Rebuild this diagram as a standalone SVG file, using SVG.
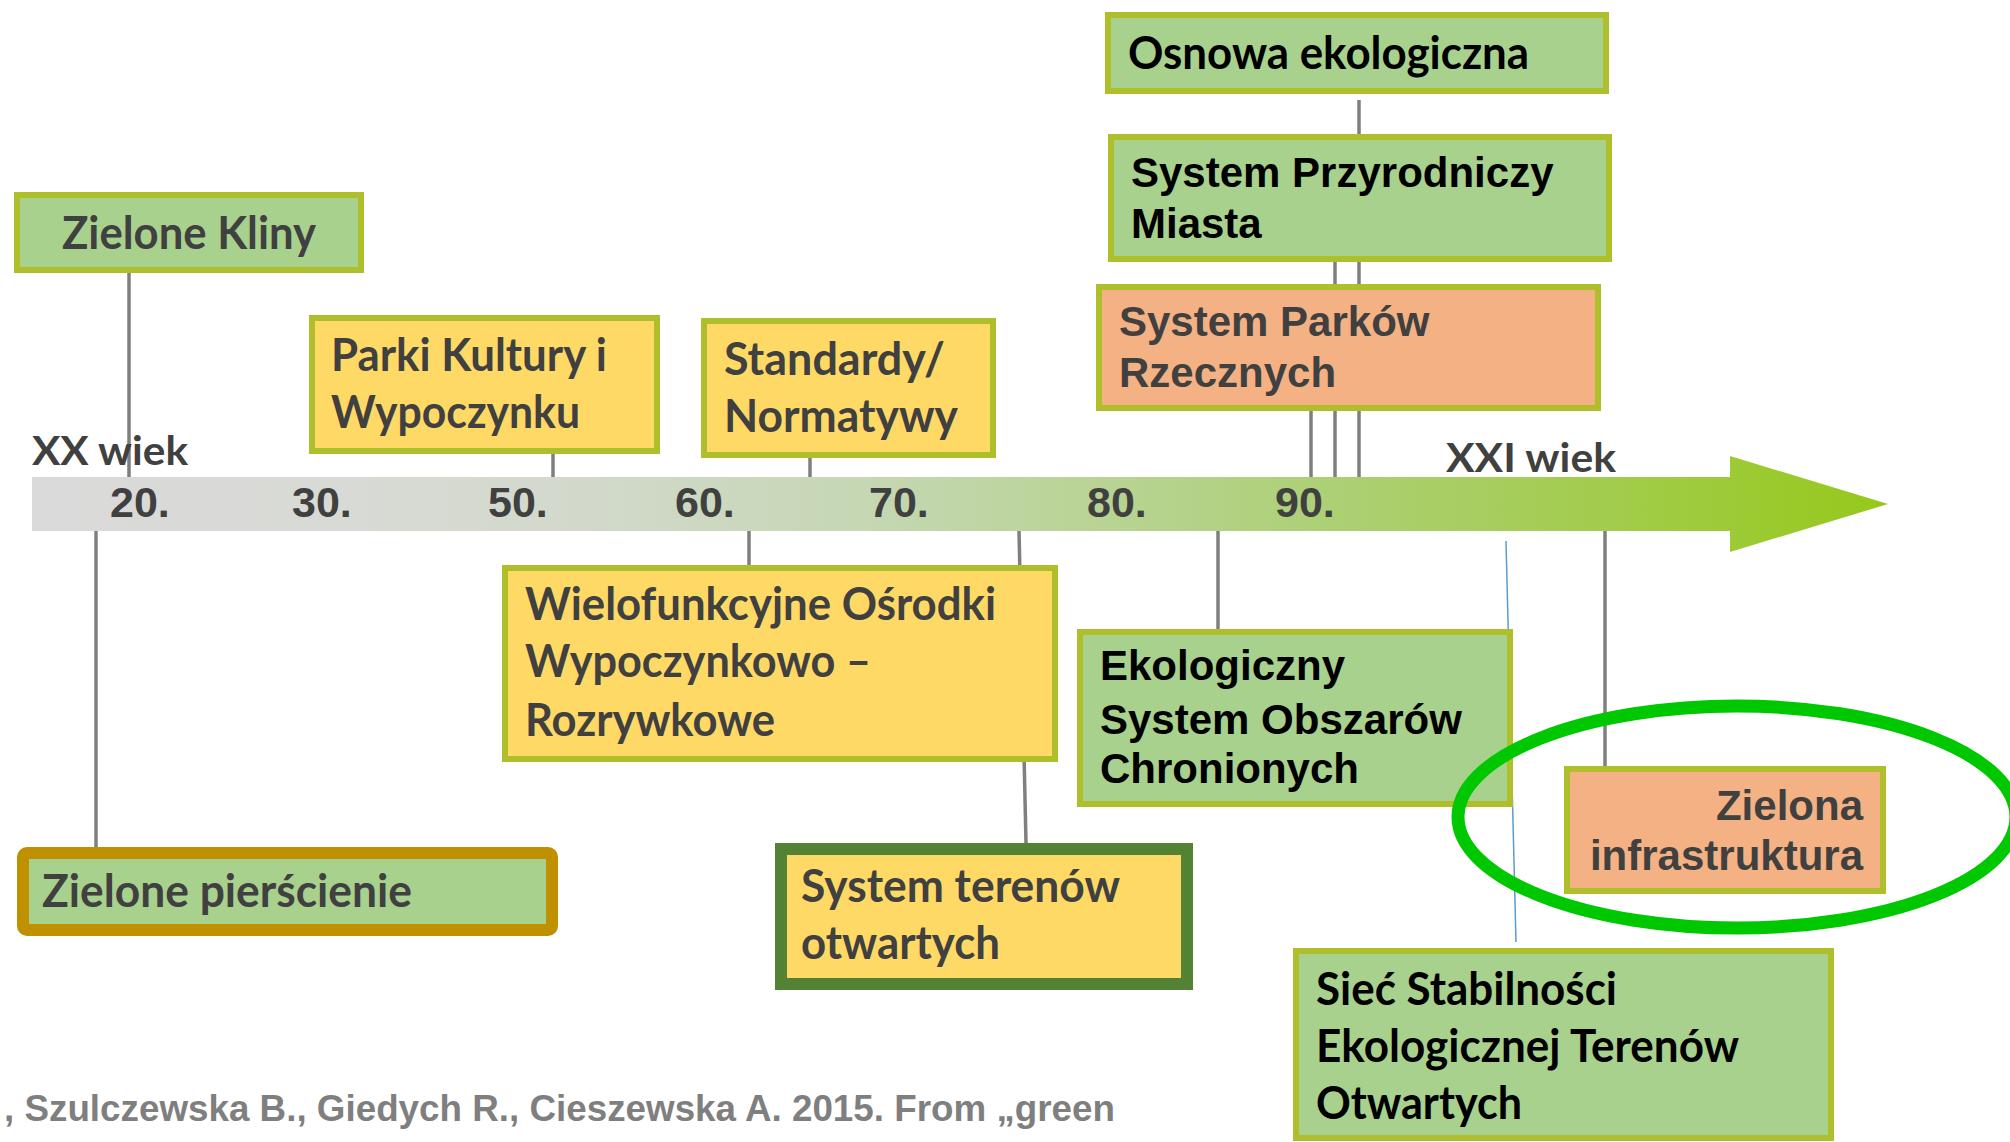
<svg xmlns="http://www.w3.org/2000/svg" width="2010" height="1142" viewBox="0 0 2010 1142">
<defs>
<linearGradient id="bar" gradientUnits="userSpaceOnUse" x1="32" y1="0" x2="1888" y2="0">
<stop offset="0" stop-color="#DADADA"/>
<stop offset="0.17" stop-color="#D8DAD5"/>
<stop offset="0.3" stop-color="#D2D9CB"/>
<stop offset="0.45" stop-color="#C5D7B3"/>
<stop offset="0.6" stop-color="#B6D38E"/>
<stop offset="0.72" stop-color="#ABCF70"/>
<stop offset="0.85" stop-color="#A2CC4C"/>
<stop offset="1" stop-color="#96C81A"/>
</linearGradient>
<style>
.c{font-family:Lato,"Open Sans",sans-serif;font-weight:700;font-size:45px;fill:#404040}
.a{font-family:"Liberation Sans",Arial,sans-serif;font-weight:700;font-size:42px;fill:#404040}
.k{fill:#000}
.d{font-family:"Liberation Sans",Arial,sans-serif;font-weight:700;font-size:43px;fill:#404040}
.h{font-family:Lato,"Open Sans",sans-serif;font-weight:700;font-size:40px;fill:#404040}
.cit{font-family:"Liberation Sans",Arial,sans-serif;font-weight:700;font-size:37px;fill:#7F7F7F}
.gr{fill:#A9D18E;stroke:#AEBF2B;stroke-width:6}
.ye{fill:#FFD966;stroke:#AEBF2B;stroke-width:6}
.sa{fill:#F4B183;stroke:#AEBF2B;stroke-width:6}
.ln{stroke:#7F7F7F;stroke-width:3.5;fill:none}
</style>
</defs>
<rect width="2010" height="1142" fill="#FFFFFF"/>

<g id="connectors">
<line class="ln" x1="129" y1="273" x2="129" y2="477"/>
<line class="ln" x1="553" y1="454" x2="553" y2="477"/>
<line class="ln" x1="810" y1="458" x2="810" y2="477"/>
<line class="ln" x1="1359" y1="100" x2="1359" y2="477"/>
<line class="ln" x1="1335" y1="262" x2="1335" y2="477"/>
<line class="ln" x1="1311" y1="411" x2="1311" y2="477"/>
<line class="ln" x1="96" y1="531" x2="96" y2="847"/>
<line class="ln" x1="749" y1="531" x2="749" y2="565"/>
<line class="ln" x1="1019" y1="531" x2="1026" y2="843"/>
<line class="ln" x1="1218" y1="531" x2="1218" y2="629"/>
<line class="ln" x1="1605" y1="531" x2="1605" y2="766"/>
<line x1="1506" y1="541" x2="1516" y2="942" stroke="#5B9BD5" stroke-width="1.5"/>
</g>

<g id="timeline">
<path d="M32,477 H1730 V456 L1888,504 L1730,552 V531 H32 Z" fill="url(#bar)"/>
<text class="d" x="110" y="517">20.</text>
<text class="d" x="292" y="517">30.</text>
<text class="d" x="488" y="517">50.</text>
<text class="d" x="675" y="517">60.</text>
<text class="d" x="869" y="517">70.</text>
<text class="d" x="1087" y="517">80.</text>
<text class="d" x="1275" y="517">90.</text>
<text class="h" x="32" y="465" textLength="156" lengthAdjust="spacingAndGlyphs">XX wiek</text>
<text class="h" x="1446" y="472" textLength="170" lengthAdjust="spacingAndGlyphs">XXI wiek</text>
</g>

<g id="zielone-kliny">
<rect class="gr" x="17" y="195" width="344" height="75"/>
<text class="c" x="62" y="249" textLength="254" lengthAdjust="spacingAndGlyphs">Zielone Kliny</text>
</g>

<g id="parki-kultury">
<rect class="ye" x="312" y="318" width="345" height="133"/>
<text class="c" x="331" y="371" textLength="276" lengthAdjust="spacingAndGlyphs">Parki Kultury i</text>
<text class="c" x="331" y="428" textLength="249" lengthAdjust="spacingAndGlyphs">Wypoczynku</text>
</g>

<g id="standardy">
<rect class="ye" x="704" y="321" width="289" height="134"/>
<text class="c" x="724" y="375" textLength="221" lengthAdjust="spacingAndGlyphs">Standardy/</text>
<text class="c" x="724" y="432" textLength="234" lengthAdjust="spacingAndGlyphs">Normatywy</text>
</g>

<g id="osnowa">
<rect class="gr" x="1108" y="15" width="498" height="76"/>
<text class="c k" x="1128" y="69" textLength="401" lengthAdjust="spacingAndGlyphs">Osnowa ekologiczna</text>
</g>

<g id="system-przyrodniczy">
<rect class="gr" x="1111" y="137" width="498" height="122"/>
<text class="a k" x="1131" y="187">System Przyrodniczy</text>
<text class="a k" x="1131" y="238">Miasta</text>
</g>

<g id="system-parkow">
<rect class="sa" x="1099" y="287" width="499" height="121"/>
<text class="a" x="1119" y="336">System Parków</text>
<text class="a" x="1119" y="387">Rzecznych</text>
</g>

<g id="wielofunkcyjne">
<rect class="ye" x="505" y="568" width="550" height="191"/>
<text class="c" x="525" y="620" textLength="471" lengthAdjust="spacingAndGlyphs">Wielofunkcyjne Ośrodki</text>
<text class="c" x="525" y="677" textLength="346" lengthAdjust="spacingAndGlyphs">Wypoczynkowo –</text>
<text class="c" x="525" y="736" textLength="250" lengthAdjust="spacingAndGlyphs">Rozrywkowe</text>
</g>

<g id="ekologiczny-system">
<rect class="gr" x="1080" y="632" width="430" height="172"/>
<text class="a k" x="1100" y="680">Ekologiczny</text>
<text class="a k" x="1100" y="734">System Obszarów</text>
<text class="a k" x="1100" y="783">Chronionych</text>
</g>

<g id="zielona-infrastruktura">
<rect class="sa" x="1567" y="769" width="316" height="122"/>
<text class="a" x="1863" y="820" text-anchor="end">Zielona</text>
<text class="a" x="1863" y="870" text-anchor="end">infrastruktura</text>
</g>

<g id="zielone-pierscienie">
<rect x="23" y="853" width="529" height="77" rx="4" fill="#A9D18E" stroke="#BF9000" stroke-width="12"/>
<text class="c" x="42" y="907" textLength="370" lengthAdjust="spacingAndGlyphs">Zielone pierścienie</text>
</g>

<g id="system-terenow">
<rect x="781" y="849" width="406" height="135" fill="#FFD966" stroke="#548235" stroke-width="12"/>
<text class="c" x="801" y="902" textLength="319" lengthAdjust="spacingAndGlyphs">System terenów</text>
<text class="c" x="801" y="959" textLength="199" lengthAdjust="spacingAndGlyphs">otwartych</text>
</g>

<g id="siec-stabilnosci">
<rect class="gr" x="1296" y="951" width="535" height="187"/>
<text class="c k" x="1316" y="1005" textLength="301" lengthAdjust="spacingAndGlyphs">Sieć Stabilności</text>
<text class="c k" x="1316" y="1062" textLength="423" lengthAdjust="spacingAndGlyphs">Ekologicznej Terenów</text>
<text class="c k" x="1316" y="1119" textLength="206" lengthAdjust="spacingAndGlyphs">Otwartych</text>
</g>

<g id="highlight">
<ellipse cx="1737" cy="817" rx="279" ry="111" fill="none" stroke="#00C800" stroke-width="13"/>
</g>

<g id="citation">
<text class="cit" x="4" y="1121" textLength="1111" lengthAdjust="spacingAndGlyphs">, Szulczewska B., Giedych R., Cieszewska A. 2015. From „green</text>
</g>
</svg>
